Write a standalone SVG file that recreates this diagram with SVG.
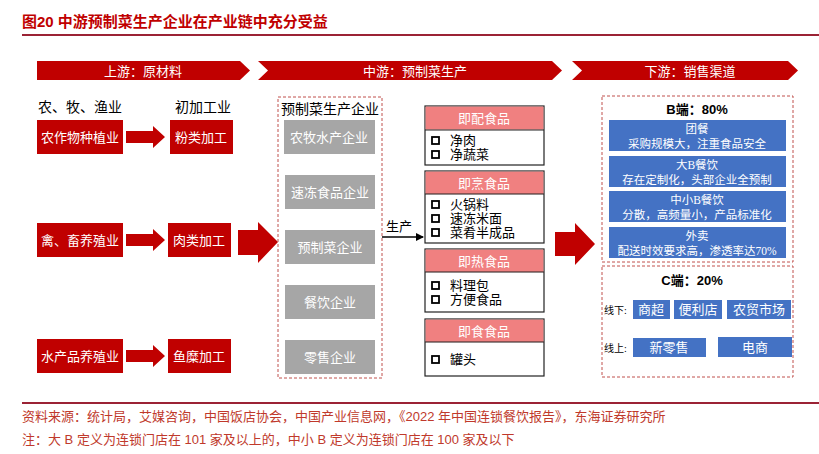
<svg xmlns="http://www.w3.org/2000/svg" width="819" height="454" viewBox="0 0 819 454">
<style>
text{font-family:"Liberation Serif","Noto Sans CJK SC",serif;}
.sans{font-family:"Liberation Sans","Noto Sans CJK SC",sans-serif;}
.rb{fill:#c00000;}
.rt{fill:#fff;font-size:13px;text-anchor:middle;}
.gb{fill:#a6a6a6;}
.bb{fill:#4472c4;}
.dash{fill:none;stroke:#c0504d;stroke-width:1;stroke-dasharray:3,2;}
.cat{fill:#fff;stroke:#222;stroke-width:1.2;}
.hdr{fill:#f08080;}
.blk{fill:#000;font-size:13px;}
.cb{fill:none;stroke:#000;stroke-width:1.8;}
.bt{fill:#fff;font-size:11.5px;text-anchor:middle;}
</style>
<defs>
<marker id="ah" markerWidth="8" markerHeight="8" refX="7" refY="4" orient="auto" markerUnits="userSpaceOnUse"><path d="M0,0 L8,4 L0,8 z" fill="#000"/></marker>
</defs>
<g id="title">
<text x="22" y="27" class="sans" font-size="15" font-weight="bold" fill="#c00000">图20  中游预制菜生产企业在产业链中充分受益</text>
<line x1="22" y1="35" x2="819" y2="35" stroke="#9b2335" stroke-width="2"/>
</g>
<g id="banners">
<polygon class="rb" points="37,61 240,61 250,70.5 240,80 37,80"/>
<text x="143" y="76" class="rt" font-size="15">上游：原材料</text>
<polygon class="rb" points="258,61 552,61 562,70.5 552,80 258,80 268,70.5"/>
<text x="415" y="76" class="rt" font-size="15">中游：预制菜生产</text>
<polygon class="rb" points="572,61 788,61 798,70.5 788,80 572,80 582,70.5"/>
<text x="690" y="76" class="rt" font-size="15">下游：销售渠道</text>
</g>
<g id="upstream">
<text x="80" y="112" font-size="14" text-anchor="middle">农、牧、渔业</text>
<text x="203" y="112" font-size="14" text-anchor="middle">初加工业</text>
<rect class="rb" x="37" y="120" width="86" height="34"/><text x="80" y="142" class="rt">农作物种植业</text>
<rect class="rb" x="170" y="120" width="63" height="34"/><text x="201" y="142" class="rt">粉类加工</text>
<rect class="rb" x="37" y="223" width="86" height="34"/><text x="80" y="245" class="rt">禽、畜养殖业</text>
<rect class="rb" x="168" y="223" width="63" height="34"/><text x="199" y="245" class="rt">肉类加工</text>
<rect class="rb" x="37" y="339" width="86" height="34"/><text x="80" y="361" class="rt">水产品养殖业</text>
<rect class="rb" x="168" y="339" width="63" height="34"/><text x="199" y="361" class="rt">鱼糜加工</text>
</g>
<g id="connectors">
<polygon class="rb" points="126,131 153,131 153,126 165,137 153,148 153,143 126,143"/>
<polygon class="rb" points="126,234 153,234 153,229 165,240 153,251 153,246 126,246"/>
<polygon class="rb" points="126,350 153,350 153,345 165,356 153,367 153,362 126,362"/>
<polygon class="rb" points="238,230 258,230 258,222 278,242 258,263 258,255 238,255"/>
<line x1="382" y1="237" x2="423" y2="237" stroke="#000" stroke-width="1.5" marker-end="url(#ah)"/>
<text x="386" y="231" font-size="13">生产</text>
<polygon class="rb" points="555,232 575,232 575,223 595,244 575,265 575,256 555,256"/>
</g>
<g id="midstream">
<rect class="dash" x="278" y="97" width="104" height="281"/>
<text x="330" y="114" font-size="14" text-anchor="middle">预制菜生产企业</text>
<rect class="gb" x="284" y="120" width="91" height="34"/><text x="329" y="142" class="rt">农牧水产企业</text>
<rect class="gb" x="285" y="175" width="90" height="34"/><text x="330" y="197" class="rt">速冻食品企业</text>
<rect class="gb" x="285" y="230" width="90" height="34"/><text x="330" y="252" class="rt">预制菜企业</text>
<rect class="gb" x="285" y="285" width="90" height="34"/><text x="330" y="307" class="rt">餐饮企业</text>
<rect class="gb" x="285" y="340" width="90" height="34"/><text x="330" y="362" class="rt">零售企业</text>
</g>
<g id="categories">
<rect class="cat" x="425" y="106" width="119" height="59"/><rect class="hdr" x="425.6" y="106.6" width="117.8" height="23"/>
<line x1="425" y1="130" x2="544" y2="130" stroke="#222"/>
<text x="484" y="123" class="rt" font-size="12">即配食品</text>
<rect class="cb" x="432" y="137" width="7" height="7"/><text x="450" y="145" class="blk">净肉</text>
<rect class="cb" x="432" y="151" width="7" height="7"/><text x="450" y="159" class="blk">净蔬菜</text>

<rect class="cat" x="425" y="171" width="119" height="72"/><rect class="hdr" x="425.6" y="171.6" width="117.8" height="22.5"/>
<line x1="425" y1="194" x2="544" y2="194" stroke="#222"/>
<text x="484" y="188" class="rt" font-size="12">即烹食品</text>
<rect class="cb" x="432" y="201" width="7" height="7"/><text x="450" y="209" class="blk">火锅料</text>
<rect class="cb" x="432" y="215" width="7" height="7"/><text x="450" y="223" class="blk">速冻米面</text>
<rect class="cb" x="432" y="229" width="7" height="7"/><text x="450" y="237" class="blk">菜肴半成品</text>

<rect class="cat" x="425" y="249" width="119" height="63"/><rect class="hdr" x="425.6" y="249.6" width="117.8" height="22.5"/>
<line x1="425" y1="272" x2="544" y2="272" stroke="#222"/>
<text x="484" y="266" class="rt" font-size="12">即热食品</text>
<rect class="cb" x="432" y="282" width="7" height="7"/><text x="450" y="290" class="blk">料理包</text>
<rect class="cb" x="432" y="296" width="7" height="7"/><text x="450" y="304" class="blk">方便食品</text>

<rect class="cat" x="425" y="319" width="119" height="57"/><rect class="hdr" x="425.6" y="319.6" width="117.8" height="22.5"/>
<line x1="425" y1="342" x2="544" y2="342" stroke="#222"/>
<text x="484" y="336" class="rt" font-size="12">即食食品</text>
<rect class="cb" x="432" y="356" width="7" height="7"/><text x="450" y="364" class="blk">罐头</text>
</g>
<g id="b-end">
<rect class="dash" x="602" y="96" width="191" height="166"/>
<text x="697" y="114" class="sans" font-size="13" font-weight="bold" text-anchor="middle">B端：80%</text>
<rect class="bb" x="609" y="120" width="177" height="31"/><text x="697" y="133" class="bt">团餐</text><text x="697" y="148" class="bt">采购规模大，注重食品安全</text>
<rect class="bb" x="609" y="156" width="177" height="31"/><text x="697" y="169" class="bt">大B餐饮</text><text x="697" y="184" class="bt">存在定制化，头部企业全预制</text>
<rect class="bb" x="609" y="191" width="177" height="31"/><text x="697" y="204" class="bt">中小B餐饮</text><text x="697" y="219" class="bt">分散，高频量小，产品标准化</text>
<rect class="bb" x="609" y="227" width="177" height="31"/><text x="697" y="240" class="bt">外卖</text><text x="697" y="255" class="bt">配送时效要求高，渗透率达70%</text>
</g>
<g id="c-end">
<rect class="dash" x="602" y="266" width="191" height="111"/>
<text x="692" y="285" class="sans" font-size="13" font-weight="bold" text-anchor="middle">C端：20%</text>
<text x="604" y="314" font-size="10">线下:</text>
<rect class="bb" x="633" y="300" width="37" height="19"/><text x="651" y="314" class="rt" font-size="12">商超</text>
<rect class="bb" x="674" y="300" width="48" height="19"/><text x="698" y="314" class="rt" font-size="12">便利店</text>
<rect class="bb" x="727" y="300" width="64" height="19"/><text x="759" y="314" class="rt" font-size="12">农贸市场</text>
<text x="604" y="352" font-size="10">线上:</text>
<rect class="bb" x="633" y="338" width="73" height="19"/><text x="669" y="352" class="rt" font-size="12">新零售</text>
<rect class="bb" x="718" y="337" width="74" height="20"/><text x="755" y="352" class="rt" font-size="12">电商</text>
</g>
<g id="footer">
<line x1="22" y1="403" x2="819" y2="403" stroke="#9b2335" stroke-width="2"/>
<text x="22" y="421" class="sans" font-size="13" fill="#c0392b">资料来源：统计局，艾媒咨询，中国饭店协会，中国产业信息网，《2022 年中国连锁餐饮报告》，东海证券研究所</text>
<text x="22" y="444" class="sans" font-size="13" fill="#c0392b">注：大 B 定义为连锁门店在 101 家及以上的，中小 B 定义为连锁门店在 100 家及以下</text>
</g>
</svg>
